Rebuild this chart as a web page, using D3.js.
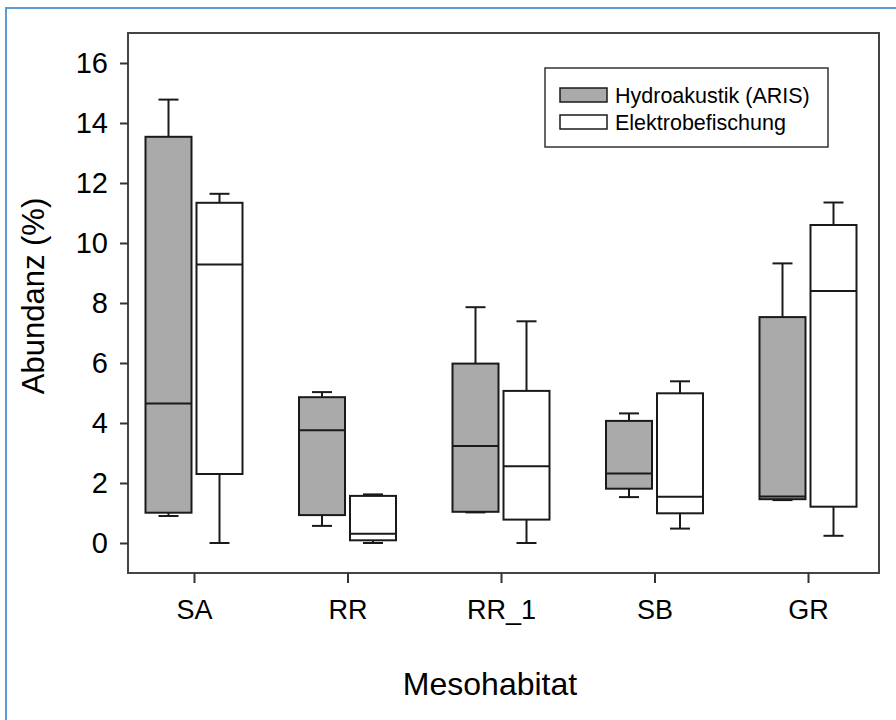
<!DOCTYPE html>
<html>
<head>
<meta charset="utf-8">
<script src="https://cdn.jsdelivr.net/npm/d3@7"></script>
<style>
  body { margin: 0; background: #fff; }
  svg { display: block; font-family: Arial, "Liberation Sans", sans-serif; }
</style>
</head>
<body>
<div id="chart"></div>
<script>
// categories and series
const categories = ["SA", "RR", "RR_1", "SB", "GR"];
const seriesNames = ["Hydroakustik (ARIS)", "Elektrobefischung"];
const seriesFill = ["#aaaaaa", "#ffffff"];

// Hydroakustik (ARIS): lower whisker, q1, median, q3, upper whisker
const hydroMin = [0.90, 0.57, 1.02, 1.53, 1.43];
const hydroQ1  = [1.01, 0.93, 1.04, 1.81, 1.46];
const hydroMed = [4.65, 3.76, 3.23, 2.32, 1.55];
const hydroQ3  = [13.54, 4.86, 5.98, 4.07, 7.53];
const hydroMax = [14.78, 5.03, 7.86, 4.32, 9.32];

// Elektrobefischung
const elektroMin = [0.00, 0.00, 0.00, 0.48, 0.24];
const elektroQ1  = [2.30, 0.09, 0.78, 0.99, 1.21];
const elektroMed = [9.28, 0.31, 2.56, 1.54, 8.40];
const elektroQ3  = [11.34, 1.57, 5.07, 4.99, 10.60];
const elektroMax = [11.64, 1.62, 7.39, 5.39, 11.35];

const yTicks = [0, 2, 4, 6, 8, 10, 12, 14, 16];

const width = 896, height = 720;
const plot = { left: 128, right: 879, top: 33, bottom: 573 };

const svg = d3.select("#chart").append("svg")
  .attr("width", width)
  .attr("height", height);

// outer blue frame (runs off the picture to the right and bottom)
svg.append("rect")
  .attr("x", 6).attr("y", 8)
  .attr("width", 920).attr("height", 740)
  .attr("fill", "none")
  .attr("stroke", "#5b9bd5")
  .attr("stroke-width", 2);

const x = d3.scalePoint()
  .domain(categories)
  .range([plot.left + 66, plot.right - 71]);

const xInner = d3.scaleBand()
  .domain(seriesNames)
  .range([-48.5, 48.5])
  .paddingInner(0.098);

const y = d3.scaleLinear()
  .domain([-1, 17])
  .range([plot.bottom, plot.top]);

// build box rows from the arrays
const boxes = [];
categories.forEach((c, i) => {
  boxes.push({ cat: c, s: 0, lo: hydroMin[i], q1: hydroQ1[i], med: hydroMed[i], q3: hydroQ3[i], hi: hydroMax[i] });
  boxes.push({ cat: c, s: 1, lo: elektroMin[i], q1: elektroQ1[i], med: elektroMed[i], q3: elektroQ3[i], hi: elektroMax[i] });
});

const bw = xInner.bandwidth();
const capW = 20;
const ink = "#1a1a1a";

const g = svg.append("g")
  .selectAll("g.box")
  .data(boxes)
  .join("g")
  .attr("class", "box")
  .attr("transform", d => `translate(${x(d.cat) + xInner(seriesNames[d.s])},0)`);

// whiskers
g.append("line")
  .attr("x1", bw / 2).attr("x2", bw / 2)
  .attr("y1", d => y(d.q3)).attr("y2", d => y(d.hi))
  .attr("stroke", ink).attr("stroke-width", 2);
g.append("line")
  .attr("x1", bw / 2).attr("x2", bw / 2)
  .attr("y1", d => y(d.q1)).attr("y2", d => y(d.lo))
  .attr("stroke", ink).attr("stroke-width", 2);
// caps
g.append("line")
  .attr("x1", bw / 2 - capW / 2).attr("x2", bw / 2 + capW / 2)
  .attr("y1", d => y(d.hi)).attr("y2", d => y(d.hi))
  .attr("stroke", ink).attr("stroke-width", 2);
g.append("line")
  .attr("x1", bw / 2 - capW / 2).attr("x2", bw / 2 + capW / 2)
  .attr("y1", d => y(d.lo)).attr("y2", d => y(d.lo))
  .attr("stroke", ink).attr("stroke-width", 2);

// box
g.append("rect")
  .attr("x", 0)
  .attr("width", bw)
  .attr("y", d => y(d.q3))
  .attr("height", d => y(d.q1) - y(d.q3))
  .attr("fill", d => seriesFill[d.s])
  .attr("stroke", ink)
  .attr("stroke-width", 2);

// median
g.append("line")
  .attr("x1", 0).attr("x2", bw)
  .attr("y1", d => y(d.med)).attr("y2", d => y(d.med))
  .attr("stroke", ink).attr("stroke-width", 2);

// plot frame
svg.append("rect")
  .attr("x", plot.left).attr("y", plot.top)
  .attr("width", plot.right - plot.left)
  .attr("height", plot.bottom - plot.top)
  .attr("fill", "none")
  .attr("stroke", "#444")
  .attr("stroke-width", 2);

// y axis
const yAxis = svg.append("g")
  .attr("transform", `translate(${plot.left},0)`)
  .call(d3.axisLeft(y).tickValues(yTicks).tickSize(8).tickPadding(12));
yAxis.select(".domain").remove();
yAxis.selectAll(".tick line").attr("stroke", "#333").attr("stroke-width", 2);
yAxis.selectAll(".tick text")
  .attr("font-size", 29)
  .attr("font-family", "Arial, 'Liberation Sans', sans-serif")
  .attr("fill", "#000");

// x axis
const xAxis = svg.append("g")
  .attr("transform", `translate(0,${plot.bottom})`)
  .call(d3.axisBottom(x).tickSize(10).tickPadding(17));
xAxis.select(".domain").remove();
xAxis.selectAll(".tick line").attr("stroke", "#333").attr("stroke-width", 2);
xAxis.selectAll(".tick text")
  .attr("font-size", 27)
  .attr("font-family", "Arial, 'Liberation Sans', sans-serif")
  .attr("fill", "#000");

// axis titles
svg.append("text")
  .attr("transform", "translate(44,296) rotate(-90)")
  .attr("text-anchor", "middle")
  .attr("font-size", 31)
  .attr("fill", "#000")
  .text("Abundanz (%)");

svg.append("text")
  .attr("x", 490).attr("y", 695)
  .attr("text-anchor", "middle")
  .attr("font-size", 32)
  .attr("fill", "#000")
  .text("Mesohabitat");

// legend
const legend = svg.append("g").attr("transform", "translate(545,68)");
legend.append("rect")
  .attr("width", 283).attr("height", 79)
  .attr("fill", "#fff")
  .attr("stroke", "#333")
  .attr("stroke-width", 1.5);

const li = legend.selectAll("g.item")
  .data(seriesNames)
  .join("g")
  .attr("class", "item")
  .attr("transform", (d, i) => `translate(15,${20 + i * 27})`);
li.append("rect")
  .attr("width", 47).attr("height", 14)
  .attr("fill", (d, i) => seriesFill[i])
  .attr("stroke", ink)
  .attr("stroke-width", 1.5);
li.append("text")
  .attr("x", 55).attr("y", 14.5)
  .attr("font-size", 21.5)
  .attr("fill", "#000")
  .text(d => d);
</script>
</body>
</html>
